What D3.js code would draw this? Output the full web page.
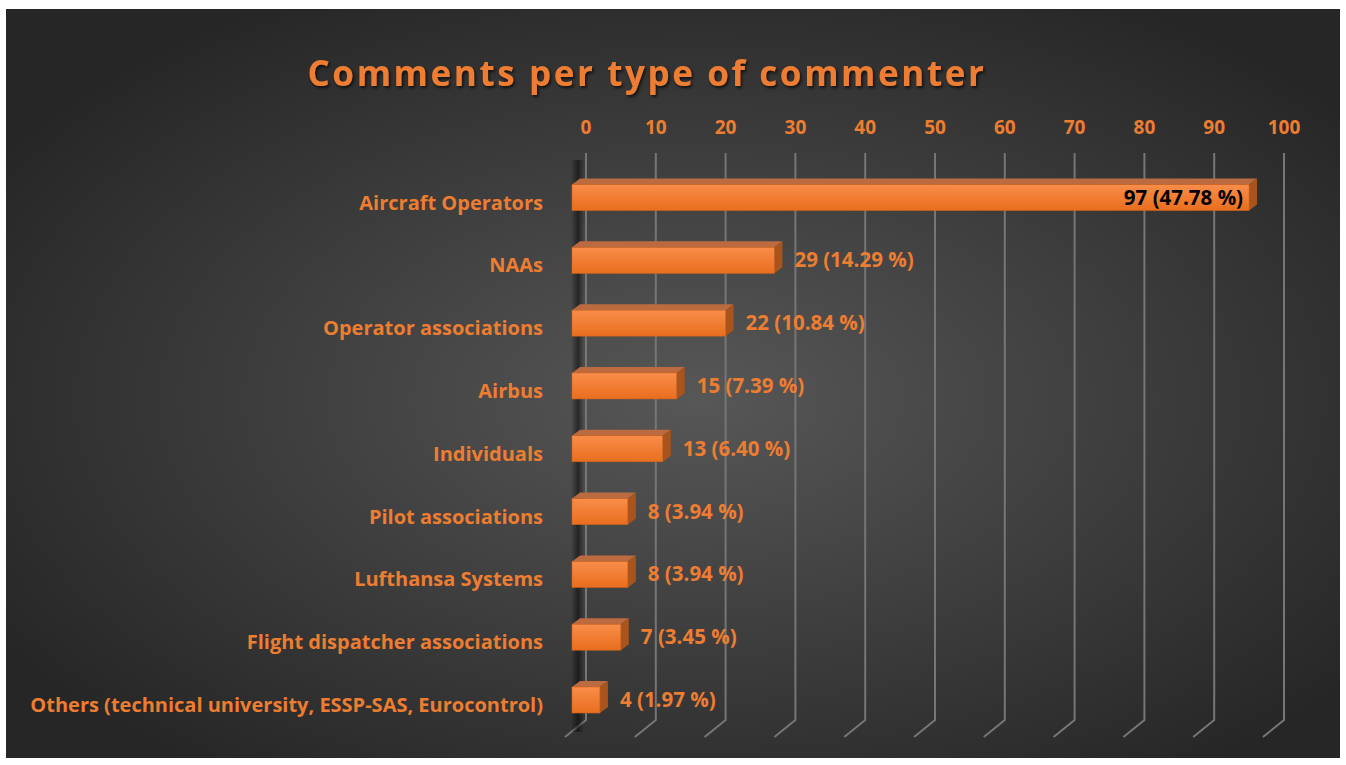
<!DOCTYPE html>
<html>
<head>
<meta charset="utf-8">
<script src="https://cdn.jsdelivr.net/npm/d3@7"></script>
<style>
	body { margin: 0; background: #fff; }
	svg { display: block; }
	text { font-family: "Open Sans", Lato, sans-serif; font-weight: 700; }
</style>
</head>
<body>
<svg id="chart" width="1346" height="765"></svg>
<script>
// Comments per commenter type
const categories = [
	"Aircraft Operators",
	"NAAs",
	"Operator associations",
	"Airbus",
	"Individuals",
	"Pilot associations",
	"Lufthansa Systems",
	"Flight dispatcher associations",
	"Others (technical university, ESSP-SAS, Eurocontrol)",
]
const counts = [97, 29, 22, 15, 13, 8, 8, 7, 4]
const shares = ["47.78", "14.29", "10.84", "7.39", "6.40", "3.94", "3.94", "3.45", "1.97"]
const tickValues = [0, 10, 20, 30, 40, 50, 60, 70, 80, 90, 100]

const orange = "#ED7D31"
const svg = d3.select("#chart")
const defs = svg.append("defs")

// background
const bg = defs.append("radialGradient")
	.attr("id", "bg").attr("cx", "52%").attr("cy", "52%").attr("r", "62%")
bg.append("stop").attr("offset", "0%").attr("stop-color", "#575757")
bg.append("stop").attr("offset", "100%").attr("stop-color", "#262626")

const front = defs.append("linearGradient")
	.attr("id", "front").attr("x1", 0).attr("y1", 0).attr("x2", 0).attr("y2", 1)
front.append("stop").attr("offset", "0%").attr("stop-color", "#F98D4A")
front.append("stop").attr("offset", "100%").attr("stop-color", "#E96E1E")

const wall = defs.append("linearGradient")
	.attr("id", "wall").attr("x1", 0).attr("y1", 0).attr("x2", 1).attr("y2", 0)
wall.append("stop").attr("offset", "0%").attr("stop-color", "#000").attr("stop-opacity", 0)
wall.append("stop").attr("offset", "55%").attr("stop-color", "#000").attr("stop-opacity", 0.5)
wall.append("stop").attr("offset", "100%").attr("stop-color", "#000").attr("stop-opacity", 0)

const shadow = defs.append("filter").attr("id", "shadow")
	.attr("x", "-5%").attr("y", "-20%").attr("width", "110%").attr("height", "150%")
shadow.append("feDropShadow")
	.attr("dx", 1.5).attr("dy", 2).attr("stdDeviation", 1.5)
	.attr("flood-color", "#000").attr("flood-opacity", 0.7)

svg.append("rect")
	.attr("x", 6).attr("y", 9)
	.attr("width", 1334).attr("height", 749)
	.attr("fill", "url(#bg)")

// scales: x on the back wall, bars sit a little forward
const x = d3.scaleLinear().domain([0, 100]).range([586, 1284])
const y = d3.scalePoint().domain(categories).range([197.5, 700])
const floor = { dx: -21, dy: 17 }
const barShift = -14
const depth = { dx: 8, dy: -6 }
const barH = 26
const gridTop = 153
const gridBottom = 720

svg.append("text")
	.attr("x", 647).attr("y", 86)
	.attr("text-anchor", "middle")
	.attr("fill", orange)
	.attr("font-size", 35)
	.attr("letter-spacing", 2.6)
	.attr("filter", "url(#shadow)")
	.text("Comments per type of commenter")

// gridlines with floor return
svg.append("g").attr("class", "grid")
	.selectAll("path")
	.data(tickValues)
	.join("path")
	.attr("d", v => `M${x(v)},${gridTop}V${gridBottom}l${floor.dx},${floor.dy}`)
	.attr("fill", "none")
	.attr("stroke", "#767676")
	.attr("stroke-width", 2)

svg.append("rect")
	.attr("x", 571).attr("y", 160)
	.attr("width", 13).attr("height", 572)
	.attr("fill", "url(#wall)")

svg.append("g").attr("class", "ticks")
	.selectAll("text")
	.data(tickValues)
	.join("text")
	.attr("x", v => x(v))
	.attr("y", 134)
	.attr("text-anchor", "middle")
	.attr("fill", orange)
	.attr("font-size", 19)
	.text(v => v)

svg.append("g").attr("class", "categories")
	.selectAll("text")
	.data(categories)
	.join("text")
	.attr("x", 543)
	.attr("y", d => y(d) + 12)
	.attr("text-anchor", "end")
	.attr("fill", orange)
	.attr("font-size", 20)
	.text(d => d)

const rows = categories.map((c, i) => ({ c, v: counts[i], p: shares[i] }))

const bars = svg.append("g").attr("class", "bars")
	.selectAll("g")
	.data(rows)
	.join("g")
	.attr("transform", d => `translate(0,${y(d.c) - barH / 2})`)

const x0 = x(0) + barShift
const xe = d => x(d.v) + barShift

bars.append("path")
	.attr("d", d => `M${x0},0L${x0 + depth.dx},${depth.dy}L${xe(d) + depth.dx},${depth.dy}L${xe(d)},0Z`)
	.attr("fill", "#BC6A40")
bars.append("path")
	.attr("d", d => `M${xe(d)},0L${xe(d) + depth.dx},${depth.dy}L${xe(d) + depth.dx},${barH + depth.dy}L${xe(d)},${barH}Z`)
	.attr("fill", "#A9541C")
bars.append("rect")
	.attr("x", x0)
	.attr("width", d => xe(d) - x0)
	.attr("height", barH)
	.attr("fill", "url(#front)")
	.attr("stroke", "#D0641C")
	.attr("stroke-width", 0.6)

bars.append("text")
	.attr("x", d => d.v > 90 ? xe(d) - 6 : xe(d) + depth.dx + 12)
	.attr("y", barH / 2 + 7)
	.attr("text-anchor", d => d.v > 90 ? "end" : "start")
	.attr("fill", d => d.v > 90 ? "#000" : orange)
	.attr("font-size", 20.5)
	.text(d => `${d.v} (${d.p} %)`)
</script>
</body>
</html>
